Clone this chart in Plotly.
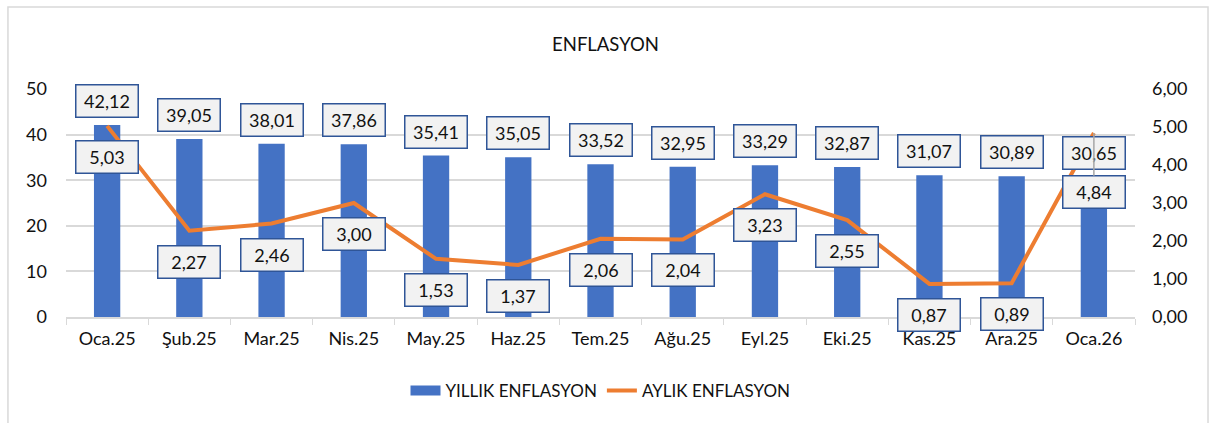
import plotly.graph_objects as go

# Data
months = ["Oca.25", "Şub.25", "Mar.25", "Nis.25", "May.25", "Haz.25", "Tem.25",
          "Ağu.25", "Eyl.25", "Eki.25", "Kas.25", "Ara.25", "Oca.26"]
yillik = [42.12, 39.05, 38.01, 37.86, 35.41, 35.05, 33.52, 32.95, 33.29, 32.87, 31.07, 30.89, 30.65]
aylik = [5.03, 2.27, 2.46, 3.00, 1.53, 1.37, 2.06, 2.04, 3.23, 2.55, 0.87, 0.89, 4.84]

BLUE = "#4472c4"
ORANGE = "#ed7d31"
FONT = "Lato"
TXT = "#111111"


def tr(v):
    return f"{v:.2f}".replace(".", ",")


fig = go.Figure()
fig.add_trace(go.Bar(
    x=months, y=yillik, name="YILLIK ENFLASYON",
    marker=dict(color=BLUE, line=dict(width=0)),
    width=0.32, showlegend=False,
))
# legend stand-in so the bar key is drawn as a wide block like the original
fig.add_trace(go.Scatter(
    x=[None], y=[None], name="YILLIK ENFLASYON", mode="lines",
    line=dict(color=BLUE, width=10),
))
fig.add_trace(go.Scatter(
    x=months, y=aylik, name="AYLIK ENFLASYON", yaxis="y2",
    mode="lines", line=dict(color=ORANGE, width=4),
))

box = dict(bgcolor="#f2f2f2", bordercolor="#2f5597", borderwidth=1.5,
           width=59, height=29, borderpad=1,
           font=dict(family=FONT, size=18, color=TXT))

annotations = []
for m, v in zip(months, yillik):
    annotations.append(dict(x=m, y=v, xref="x", yref="y", text=tr(v), yshift=24,
                            showarrow=False, **box))
for i, (m, v) in enumerate(zip(months, aylik)):
    if i == len(months) - 1:
        # pushed further down in the original, with a leader line to the point
        annotations.append(dict(x=m, y=v, xref="x", yref="y2", text=tr(v),
                                showarrow=True, arrowhead=0, arrowwidth=1.5,
                                arrowcolor="#a6a6a6", ax=0, ay=59, **box))
    else:
        annotations.append(dict(x=m, y=v, xref="x", yref="y2", text=tr(v), yshift=-31,
                                showarrow=False, **box))

fig.update_layout(
    width=1211, height=423,
    margin=dict(l=66, r=76, t=89, b=106, autoexpand=False),
    paper_bgcolor="white", plot_bgcolor="white",
    separators=",.",
    font=dict(family=FONT, size=18, color=TXT),
    title=dict(text="ENFLASYON", x=0.5, xanchor="center", y=1 - 45 / 423, yanchor="middle",
               font=dict(family=FONT, size=18.5, color=TXT)),
    xaxis=dict(
        showgrid=False, showline=True, linecolor="#d9d9d9", linewidth=1.5,
        ticks="outside", tickson="boundaries", ticklen=6, tickcolor="#d9d9d9",
        tickfont=dict(size=18), ticklabelstandoff=5, automargin=False,
    ),
    yaxis=dict(
        range=[0, 50], dtick=10, showgrid=True, gridcolor="#d9d9d9", gridwidth=1.5,
        zeroline=False, ticks="", tickfont=dict(size=18), ticklabelstandoff=18,
        automargin=False,
    ),
    yaxis2=dict(
        range=[0, 6], dtick=1, tickformat=".2f", overlaying="y", side="right",
        showgrid=False, zeroline=False, ticks="", tickfont=dict(size=18),
        ticklabelstandoff=16, automargin=False,
    ),
    legend=dict(orientation="h", x=0.5, xanchor="center", y=(317 - 391) / 228, yanchor="middle",
                font=dict(size=17), traceorder="normal"),
    annotations=annotations,
    shapes=[
        # chart frame
        dict(type="rect", xref="paper", yref="paper", x0=-0.0543, x1=1.0683,
             y0=-0.5, y1=1.3596, line=dict(color="#d9d9d9", width=1.5), layer="below"),
    ],
)

# drop the browser's default body margin so the figure sits at the page corner
fig.write_html("out.html", config={"displayModeBar": False},
               post_script="document.body.style.margin='0';")
